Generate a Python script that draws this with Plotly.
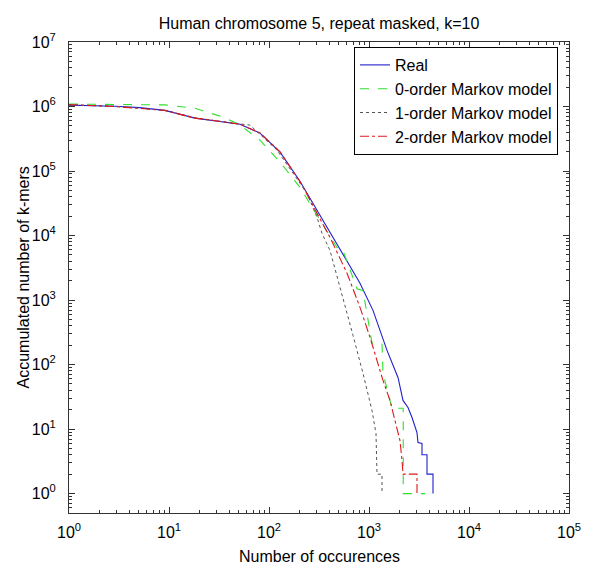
import plotly.graph_objects as go
import math

# ---- data (occurrences, accumulated k-mer counts) ----
occ_real = [1, 1.62, 2.88, 5.1, 9.1, 18.2, 36.3, 51.3, 81.3, 129, 204, 347, 550, 813, 1096,
            1380, 1514, 1950, 2188, 2455, 2692, 3020, 3090, 3388, 3388, 3802, 3802, 4365, 4365]
cnt_real = [1.05e6, 1.04e6, 1.01e6, 9.6e5, 8.7e5, 6.6e5, 5.7e5, 5.3e5, 3.87e5, 1.96e5, 6.96e4,
            1.73e4, 5300, 1816, 692, 237, 166, 63, 27.8, 21.6, 15.1, 8.8, 6.2, 6, 4, 4, 2, 2, 1]

occ_m0 = [1, 3, 9.12, 18.2, 25.7, 36.3, 51.3, 81.3, 129, 204, 347, 479, 537, 759, 871,
          1072, 1349, 1380, 1698, 2200, 2200, 3630]
cnt_m0 = [1.09e6, 1.07e6, 1.06e6, 9.4e5, 8.0e5, 6.7e5, 5.15e5, 3.0e5, 1.37e5, 5.6e4, 1.45e4,
          6500, 6400, 1500, 1400, 215, 212, 73, 21, 21, 1, 1]

occ_m1 = [1, 2.88, 9.1, 18.2, 36.3, 64.6, 120, 240, 302, 339, 407, 549, 692, 871, 1072,
          1175, 1202, 1202, 1349, 1349]
cnt_m1 = [1.06e6, 1.01e6, 8.7e5, 6.7e5, 5.75e5, 5.15e5, 2.11e5, 4.53e4, 1.92e4, 1.08e4, 5900,
          1100, 283, 73, 19.4, 8.5, 3.6, 2, 2, 1]

occ_m2 = [1, 2.88, 9.1, 18.2, 36.3, 51.3, 81.3, 129, 204, 275, 407, 603, 813, 1023, 1380,
          1622, 1905, 2042, 2138, 2188, 3020, 3020]
cnt_m2 = [1.07e6, 1.0e6, 8.7e5, 6.6e5, 5.75e5, 5.3e5, 3.9e5, 1.98e5, 6.9e4, 2.95e4, 9400,
          2600, 771, 264, 57, 27.8, 10.6, 6.6, 3.3, 2, 2, 1]

series_names = ["Real", "0-order Markov model", "1-order Markov model", "2-order Markov model"]

x_tickvals = [1, 10, 100, 1000, 10000, 100000]
x_ticktext = ["10<sup>0</sup>", "10<sup>1</sup>", "10<sup>2</sup>", "10<sup>3</sup>",
              "10<sup>4</sup>", "10<sup>5</sup>"]
y_tickvals = [1, 10, 100, 1000, 1e4, 1e5, 1e6, 1e7]
y_ticktext = ["10<sup>%d</sup>" % i for i in range(8)]

title_text = "Human chromosome 5, repeat masked, k=10"
x_title = "Number of occurences"
y_title = "Accumulated number of k-mers"

FONT = "Liberation Sans, Arial, sans-serif"

fig = go.Figure()
fig.add_trace(go.Scatter(x=occ_real, y=cnt_real, mode="lines", name=series_names[0],
                         line=dict(color="#2020cc", width=1.1)))
fig.add_trace(go.Scatter(x=occ_m0, y=cnt_m0, mode="lines", name=series_names[1],
                         line=dict(color="#2ee02e", width=1.1, dash="dash")))
fig.add_trace(go.Scatter(x=occ_m1, y=cnt_m1, mode="lines", name=series_names[2],
                         line=dict(color="#555555", width=1, dash="dot")))
fig.add_trace(go.Scatter(x=occ_m2, y=cnt_m2, mode="lines", name=series_names[3],
                         line=dict(color="#e01818", width=1.1, dash="dashdot")))

minor_x = [m * 10 ** k for k in range(0, 5) for m in range(2, 10)]
minor_y = [m * 10 ** k for k in range(-1, 7) for m in range(2, 10) if m * 10 ** k >= 0.5]

axis_common = dict(
    type="log", showgrid=False, zeroline=False, showline=True, linecolor="#333333",
    linewidth=1, mirror="allticks", ticks="inside", ticklen=6, tickcolor="#333333",
    tickfont=dict(family=FONT, size=16, color="black"),
)

fig.update_xaxes(**axis_common, range=[0, 5], tickmode="array", tickvals=x_tickvals,
                 ticktext=x_ticktext, ticklabelstandoff=5,
                 minor=dict(ticks="inside", ticklen=3, tickcolor="#333333", tickvals=minor_x))
fig.update_yaxes(**axis_common, range=[math.log10(0.5), 7], tickmode="array",
                 tickvals=y_tickvals, ticktext=y_ticktext, ticklabelstandoff=9,
                 minor=dict(ticks="inside", ticklen=3, tickcolor="#333333", tickvals=minor_y))

fig.update_layout(
    width=595, height=568,
    margin=dict(l=69, r=26, t=42, b=55, autoexpand=False),
    paper_bgcolor="white", plot_bgcolor="white",
    font=dict(family=FONT, size=16, color="black"),
    title=dict(text=title_text, x=0.5, xref="paper", y=1 - 23 / 568, yref="container",
               xanchor="center", yanchor="middle", font=dict(family=FONT, size=16, color="black")),
    showlegend=True,
    legend=dict(x=(354 - 69) / 500, y=(513 - 47) / 471, xanchor="left", yanchor="top",
                bgcolor="white", bordercolor="black", borderwidth=1,
                font=dict(family=FONT, size=16, color="black"), tracegroupgap=0,
                itemwidth=30),
    annotations=[
        dict(text=x_title, xref="paper", yref="paper", x=0.5, y=-(556 - 513) / 471,
             xanchor="center", yanchor="middle", showarrow=False,
             font=dict(family=FONT, size=16, color="black")),
        dict(text=y_title, xref="paper", yref="paper", x=-(69 - 23) / 500, y=0.5,
             xanchor="center", yanchor="middle", textangle=-90, showarrow=False,
             font=dict(family=FONT, size=16, color="black")),
    ],
)

fig.write_html("out.html")
